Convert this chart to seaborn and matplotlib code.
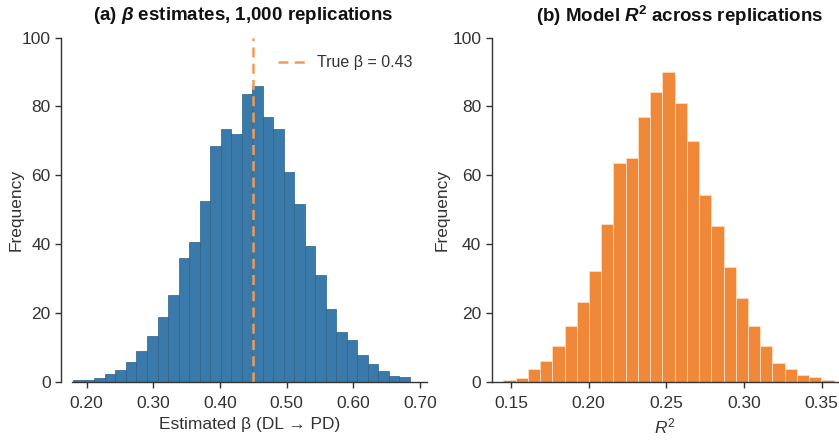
import matplotlib
matplotlib.use("Agg")
import matplotlib.pyplot as plt
from matplotlib import font_manager as fm
import seaborn as sns
import numpy as np
import pandas as pd

# ---------------- data ----------------
beta_bin_start = 0.18
beta_bin_width = 0.01578
beta_counts = [0.3, 0.5, 1.0, 2.3, 3.3, 5.7, 8.8, 13.3, 18.8, 25.2, 35.9, 40.6,
               52.6, 68.4, 73.3, 72.0, 83.6, 85.8, 76.8, 73.3, 60.9, 51.6, 39.3,
               31.0, 21.0, 14.4, 12.0, 7.8, 5.0, 3.0, 1.6, 1.2]

r2_bin_start = 0.145
r2_bin_width = 0.00788
r2_counts = [0.4, 1.1, 3.5, 6.1, 10.3, 16.0, 23.1, 32.2, 45.9, 63.5, 65.0, 76.8,
             84.2, 89.9, 80.9, 70.0, 54.1, 45.1, 33.4, 24.2, 16.0, 10.2, 5.3,
             3.6, 1.9, 1.4, 0.4]

true_beta_line = 0.45
true_beta_label = "True β = 0.43"
beta_ticks = [0.20, 0.30, 0.40, 0.50, 0.60, 0.70]
r2_ticks = [0.15, 0.20, 0.25, 0.30, 0.35]
freq_ticks = [0, 20, 40, 60, 80, 100]

titles = [r"(a) $\mathbfit{\beta}$ estimates, 1,000 replications",
          r"(b) Model $\mathbfit{R}^{\mathbf{2}}$ across replications"]
xlabels = ["Estimated β (DL → PD)", r"$R^2$"]
ylabel = "Frequency"

# ---------------- style ----------------
sns.set_theme(style="ticks")
names = {f.name for f in fm.fontManager.ttflist}
if "Liberation Sans Narrow" in names:
    fam = "Liberation Sans Narrow"
else:
    fam = "Liberation Sans"
plt.rcParams["font.family"] = [fam, "DejaVu Sans"]
plt.rcParams["mathtext.fontset"] = "custom"
plt.rcParams["mathtext.rm"] = fam
plt.rcParams["mathtext.it"] = fam + ":italic"
plt.rcParams["mathtext.bf"] = fam + ":bold"
plt.rcParams["mathtext.bfit"] = fam + ":italic:bold"

ink = "#333333"
blue = "#3a7aaa"
orange = "#f0883a"

fig = plt.figure(figsize=(8.39, 4.45), dpi=100)
ax1 = fig.add_axes([71.7 / 839, 63.5 / 445, 355 / 839, 344 / 445])
ax2 = fig.add_axes([491.7 / 839, 63.5 / 445, 347 / 839, 344 / 445])

def hist_frame(start, width, counts):
    e = start + width * np.arange(len(counts) + 1)
    df = pd.DataFrame({"center": (e[:-1] + e[1:]) / 2, "count": counts})
    return df, e.tolist()

df1, e1 = hist_frame(beta_bin_start, beta_bin_width, beta_counts)
df2, e2 = hist_frame(r2_bin_start, r2_bin_width, r2_counts)

sns.histplot(data=df1, x="center", weights="count", bins=e1, ax=ax1,
             color=blue, edgecolor="#2b5f88", linewidth=0.5, alpha=1.0)
sns.histplot(data=df2, x="center", weights="count", bins=e2, ax=ax2,
             color=orange, edgecolor="#fbd9bb", linewidth=0.7, alpha=1.0)

ax1.axvline(true_beta_line, color="#f29b58", linestyle=(0, (4, 2.5)), linewidth=1.8,
            label=true_beta_label)
leg = ax1.legend(loc="upper right", frameon=False, fontsize=11.5,
                 handlelength=1.7, handletextpad=0.7, bbox_to_anchor=(1.0, 0.99))
for t in leg.get_texts():
    t.set_color(ink)

ax1.set_xlim(0.1775, 0.710)
ax2.set_xlim(0.1375, 0.361)
for ax, ticks in ((ax1, beta_ticks), (ax2, r2_ticks)):
    ax.set_ylim(0, 100)
    ax.set_yticks(freq_ticks)
    ax.set_xticks(ticks)
    ax.set_xticklabels([f"{t:.2f}" for t in ticks])
    ax.tick_params(axis="both", colors=ink, labelcolor=ink, labelsize=12.5,
                   length=4.5, width=1.0, direction="out")
    ax.tick_params(axis="x", pad=6)
    ax.tick_params(axis="y", pad=3)
    for s in ("top", "right"):
        ax.spines[s].set_visible(False)
    for s in ("left", "bottom"):
        ax.spines[s].set_color(ink)
        ax.spines[s].set_linewidth(1.0)
    ax.spines["left"].set_bounds(0, 100)

ax1.spines["left"].set_position(("outward", 7.5))

ax1.set_xlabel(xlabels[0], fontsize=12.5, color=ink, labelpad=4)
ax2.set_xlabel(xlabels[1], fontsize=12.5, color=ink, labelpad=4)
ax1.set_ylabel(ylabel, fontsize=12.5, color=ink)
ax2.set_ylabel(ylabel, fontsize=12.5, color=ink)
ax1.yaxis.set_label_coords(-0.135, 0.5)
ax2.yaxis.set_label_coords(-0.12, 0.5)

fig.text(243 / 839, 1 - 16 / 445, titles[0], ha="center", va="center",
         fontsize=13.5, fontweight="bold", color="#111111")
fig.text(680 / 839, 1 - 16 / 445, titles[1], ha="center", va="center",
         fontsize=13.5, fontweight="bold", color="#111111")

fig.savefig("out.png", dpi=100)
